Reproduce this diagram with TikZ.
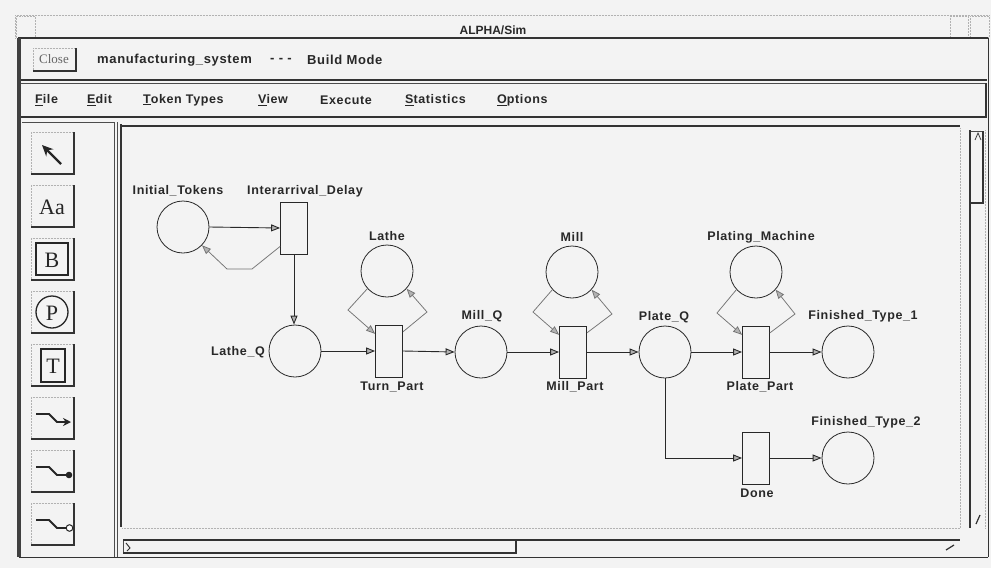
\documentclass[tikz,border=0pt]{standalone}
\usepackage{fontspec}
\setmainfont{Liberation Sans}
\newfontfamily\uifont[LetterSpace=5]{Liberation Sans}
\newfontfamily\serifui{Liberation Serif}
\usetikzlibrary{arrows.meta}
\definecolor{bg}{RGB}{243,243,243}
\definecolor{ink}{RGB}{40,40,40}
\tikzset{
  place/.style={circle, draw=ink, line width=0.8pt, minimum size=52pt, inner sep=0pt},
  trans/.style={rectangle, draw=ink, line width=0.8pt, minimum width=27pt, minimum height=52pt, inner sep=0pt},
  lbl/.style={font=\uifont\bfseries\fontsize{12.5}{14}\selectfont, text=ink, inner sep=0pt},
  hdr/.style={font=\uifont\bfseries\fontsize{13}{15}\selectfont, text=ink, inner sep=0pt, anchor=west},
  menu/.style={font=\uifont\bfseries\fontsize{12.5}{14}\selectfont, text=ink, inner sep=0pt, anchor=west},
  arc/.style={draw=ink, line width=0.9pt, -{Triangle[length=9pt,width=7pt,fill=gray!60]}},
  fb/.style={draw=black!55, line width=0.75pt, -{Triangle[length=9pt,width=7pt,fill=gray!60]}},
  heavy/.style={line width=2.2pt, draw=black!80},
  thinl/.style={line width=0.7pt, draw=black!70},
  dotl/.style={line width=0.5pt, draw=black!30, densely dotted},
  icon/.style={font=\serifui\fontsize{22}{24}\selectfont, text=black!85, inner sep=0pt}
}
\begin{document}
\begin{tikzpicture}[x=1pt,y=-1pt]
\fill[bg] (0,0) rectangle (991,568);
\useasboundingbox (0,0) rectangle (991,568);

% ---------- title bar ----------
\draw[dotl] (15,15) -- (990,15);
\draw[dotl] (15,15) -- (15,38);
\draw[dotl] (16,16) rectangle (35,37);
\draw[dotl] (950,16) rectangle (968,37);
\draw[dotl] (970,16) rectangle (989,37);
\node[font=\bfseries\fontsize{12}{14}\selectfont, text=ink, inner sep=0pt] (title) at (493,30) {ALPHA/Sim};

% ---------- main window frame ----------
\draw[line width=1.2pt, black!80] (18,38) -- (988,38);
\draw[line width=3.5pt, black!75] (19,38) -- (19,557);
\draw[line width=1pt, black!80] (19,557) -- (988,557);
\draw[line width=1pt, black!80] (988,38) -- (988,557);

% header row
\draw[heavy] (21,80) -- (987,80);
\draw[thinl] (21,83) -- (987,83);
\draw[dotl] (33,48) -- (33,71);
\draw[dotl] (33,48) -- (76,48);
\draw[line width=1.6pt, black!80] (33,71) -- (76,71) -- (76,48);
\node[font=\serifui\fontsize{13}{15}\selectfont, text=black!60, inner sep=0pt] (close) at (54,59) {Close};
\node[hdr] (mfg) at (97,60) {manufacturing\_system};
\node[hdr] (dash) at (270,60) {- - -};
\node[hdr] (mode) at (307,60) {Build Mode};

% menu bar
\draw[heavy] (21,117) -- (987,117);
\draw[line width=2pt, black!80] (986,83) -- (986,117);
\node[menu] (mFile) at (35,100) {\underline{F}ile};
\node[menu] (mEdit) at (87,100) {\underline{E}dit};
\node[menu] (mTok) at (143,100) {\underline{T}oken Types};
\node[menu] (mView) at (258,100) {\underline{V}iew};
\node[menu] (mExec) at (320,100) {Execute};
\node[menu] (mStat) at (405,100) {\underline{S}tatistics};
\node[menu] (mOpt) at (497,100) {\underline{O}ptions};

% ---------- tool palette ----------
\draw[thinl] (22,122) -- (114,122) -- (114,557);
\foreach \yy in {132,185,238,291,344,397,450,503}{
  \draw[dotl] (31,\yy+42) -- (31,\yy) -- (74,\yy);
  \draw[line width=1.6pt, black!80] (31,\yy+42) -- (74,\yy+42) -- (74,\yy);
}
% arrow cursor
\draw[line width=2.4pt, black!85, -{Stealth[length=11pt,width=10pt]}] (61,164) -- (42,145);
% Aa
\node[icon] (iAa) at (52,207) {Aa};
% boxed B
\draw[line width=1.3pt, black!85] (36,243) rectangle (68,275);
\node[icon] (iB) at (52,260) {B};
% circled P
\draw[line width=1.3pt, black!85] (52,312) circle (16);
\node[icon] (iP) at (52,313) {P};
% boxed T
\draw[line width=1.3pt, black!85] (41,349) rectangle (65,382);
\node[icon] (iT) at (53,366) {T};
% arc icons
\draw[line width=1.8pt, black!85, -{Stealth[length=8pt,width=8pt]}] (36,414) -- (49,414) -- (57,422) -- (71,422);
\draw[line width=1.8pt, black!85] (36,467) -- (49,467) -- (57,475) -- (66,475);
\fill[black!85] (69,475) circle (3.3);
\draw[line width=1.8pt, black!85] (36,520) -- (49,520) -- (57,528) -- (66,528);
\draw[line width=1pt, black!85, fill=white] (69.5,528) circle (3.3);

% ---------- canvas frame ----------
\draw[thinl] (117,122) -- (117,557);
\draw[heavy] (121,124) -- (121,527);
\draw[heavy] (120,126) -- (960,126);
\draw[dotl] (122,528) -- (960,528);
\draw[dotl] (960,128) -- (960,528);
% right scrollbar
\draw[heavy] (970,130) -- (970,528);
\draw[thinl] (971,131) -- (983,131);
\draw[line width=1.6pt, black!80] (983,131) -- (983,203) -- (971,203);
\draw[dotl] (985,130) -- (985,528);
\draw[line width=0.8pt, black!75] (975,140) -- (978,133) -- (981,140);
\draw[line width=1.2pt, black!80] (976,524) -- (980,515);
% bottom scrollbar
\draw[thinl] (123,539) -- (123,553);
\draw[heavy] (123,540) -- (960,540);
\draw[line width=1.6pt, black!80] (123,553) -- (516,553) -- (516,540);
\draw[line width=1pt, black!80] (126,543) -- (130,548) -- (127,551);
\draw[line width=1.2pt, black!80] (946,550) -- (954,545);

% ---------- Petri net ----------
\node[place] (init)    at (183,227) {};
\node[trans] (inter)   at (294,228) {};
\node[place] (latheq)  at (295,351) {};
\node[trans] (turn)    at (389,351) {};
\node[place] (lathe)   at (387,271) {};
\node[place] (millq)   at (481,352) {};
\node[trans] (millp)   at (573,352) {};
\node[place] (mill)    at (572,272) {};
\node[place] (plateq)  at (665,352) {};
\node[trans] (platep)  at (756,352) {};
\node[place] (plating) at (756,272) {};
\node[place] (fin1)    at (848,352) {};
\node[trans] (done)    at (756,458) {};
\node[place] (fin2)    at (848,458) {};

\node[lbl] (l-init)    at (178,191) {Initial\_Tokens};
\node[lbl] (l-inter)   at (305,191) {Interarrival\_Delay};
\node[lbl] (l-lathe)   at (387,236) {Lathe};
\node[lbl, anchor=east] (l-latheq) at (265,352) {Lathe\_Q};
\node[lbl] (l-turn)    at (392,387) {Turn\_Part};
\node[lbl] (l-millq)   at (482,316) {Mill\_Q};
\node[lbl] (l-mill)    at (572,237) {Mill};
\node[lbl] (l-millp)   at (575,387) {Mill\_Part};
\node[lbl] (l-plateq)  at (664,317) {Plate\_Q};
\node[lbl] (l-plating) at (761,237) {Plating\_Machine};
\node[lbl] (l-platep)  at (760,387) {Plate\_Part};
\node[lbl] (l-fin1)    at (863,316) {Finished\_Type\_1};
\node[lbl] (l-fin2)    at (866,422) {Finished\_Type\_2};
\node[lbl] (l-done)    at (757,493) {Done};

% main arcs
\draw[arc] (init.east) -- (inter.west);
\draw[arc] (inter.south) -- (inter.south |- latheq.north);
\draw[arc] (latheq.east) -- (turn.west);
\draw[arc] (turn.east) -- (millq.west);
\draw[arc] (millq.east) -- (millp.west);
\draw[arc] (millp.east) -- (plateq.west);
\draw[arc] (plateq.east) -- (platep.west);
\draw[arc] (platep.east) -- (fin1.west);
\draw[arc] (plateq.south) |- (done.west);
\draw[arc] (done.east) -- (fin2.west);

% feedback arcs
\coordinate (ik1) at (252,269);
\coordinate (ik2) at (227,269);
\draw[fb] (inter.233) -- (ik1) -- (ik2) -- (init.316);
\coordinate (lk1) at (348,310);
\coordinate (lk2) at (427,312);
\draw[fb] (lathe.222) -- (lk1) -- (turn.129);
\draw[fb] (turn.54) -- (lk2) -- (lathe.318);
\coordinate (mk1) at (533,312);
\coordinate (mk2) at (612,314);
\draw[fb] (mill.222) -- (mk1) -- (millp.129);
\draw[fb] (millp.54) -- (mk2) -- (mill.318);
\coordinate (pk1) at (717,313);
\coordinate (pk2) at (795,314);
\draw[fb] (plating.222) -- (pk1) -- (platep.129);
\draw[fb] (platep.54) -- (pk2) -- (plating.318);
\end{tikzpicture}
\end{document}
